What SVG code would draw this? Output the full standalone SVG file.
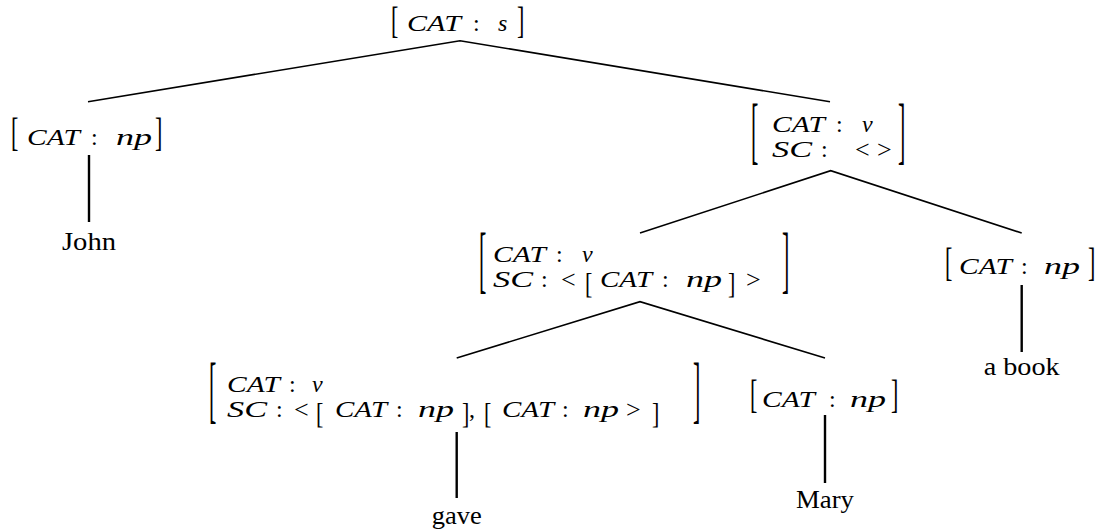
<svg xmlns="http://www.w3.org/2000/svg" width="1112" height="531" viewBox="0 0 1112 531">
<style>
text{font-family:"Liberation Serif","Times New Roman",serif;font-size:24px;fill:#000}
.i{font-style:italic}
.br{font-size:22px}
.r{font-size:26px}
.w{font-size:25px}
.e{stroke:#000;stroke-width:1.6;fill:none;stroke-linejoin:miter}
.v{stroke:#000;stroke-width:2.4;fill:none}
</style>
<rect width="1112" height="531" fill="#fff"/>
<g id="connectors">
<path class="e" d="M88,101.7 L460,40.7 L830,101.7"/>
<path class="e" d="M640,233 L830.7,170.7 L1021.7,233"/>
<path class="e" d="M456.7,358 L640,301.7 L825,358"/>
<line class="v" x1="89" y1="155" x2="89" y2="222"/>
<line class="v" x1="1021.7" y1="285" x2="1021.7" y2="352"/>
<line class="v" x1="825" y1="415" x2="825" y2="483"/>
<line class="v" x1="456.7" y1="432" x2="456.7" y2="498"/>
</g>
<g id="n-s">
<text class="br" transform="translate(391,33) scale(1,1.72)">[</text>
<text class="i" x="407" y="31" textLength="54" lengthAdjust="spacingAndGlyphs">CAT</text>
<text x="473" y="31">:</text>
<text class="i" x="498" y="31">s</text>
<text class="br" transform="translate(517,33) scale(1,1.72)">]</text>
</g>
<g id="n-np1">
<text class="br" transform="translate(11,146) scale(1,1.8)">[</text>
<text class="i" x="27" y="145" textLength="53" lengthAdjust="spacingAndGlyphs">CAT</text>
<text x="91" y="145">:</text>
<text class="i" x="116" y="145" textLength="36" lengthAdjust="spacingAndGlyphs">np</text>
<text class="br" transform="translate(155,146) scale(1,1.8)">]</text>
</g>
<g id="n-john">
<text class="w" x="89" y="250" text-anchor="middle" textLength="54" lengthAdjust="spacingAndGlyphs">John</text>
</g>
<g id="n-vp">
<text class="br" transform="translate(751,155) scale(1,3.4)">[</text>
<text class="i" x="772" y="132" textLength="53" lengthAdjust="spacingAndGlyphs">CAT</text>
<text x="836" y="132">:</text>
<text class="i" x="862" y="132">v</text>
<text class="i" x="772" y="157" textLength="40" lengthAdjust="spacingAndGlyphs">SC</text>
<text x="821" y="157">:</text>
<text class="r" x="855" y="158">&lt;</text>
<text class="r" x="877" y="158">&gt;</text>
<text class="br" transform="translate(898,155) scale(1,3.4)">]</text>
</g>
<g id="n-v">
<text class="br" transform="translate(479,284) scale(1,3.4)">[</text>
<text class="i" x="493" y="262" textLength="53" lengthAdjust="spacingAndGlyphs">CAT</text>
<text x="556" y="262">:</text>
<text class="i" x="582" y="262">v</text>
<text class="i" x="493" y="287" textLength="40" lengthAdjust="spacingAndGlyphs">SC</text>
<text x="541" y="287">:</text>
<text class="r" x="561" y="288">&lt;</text>
<text class="br" transform="translate(585,293) scale(1,1.3)">[</text>
<text class="i" x="600" y="287" textLength="52" lengthAdjust="spacingAndGlyphs">CAT</text>
<text x="662" y="287">:</text>
<text class="i" x="686" y="287" textLength="36" lengthAdjust="spacingAndGlyphs">np</text>
<text class="br" transform="translate(728,293) scale(1,1.3)">]</text>
<text class="r" x="746" y="288">&gt;</text>
<text class="br" transform="translate(782,284) scale(1,3.4)">]</text>
</g>
<g id="n-vv">
<text class="br" transform="translate(209,414) scale(1,3.4)">[</text>
<text class="i" x="227" y="392" textLength="53" lengthAdjust="spacingAndGlyphs">CAT</text>
<text x="289" y="392">:</text>
<text class="i" x="312" y="392">v</text>
<text class="i" x="227" y="417" textLength="40" lengthAdjust="spacingAndGlyphs">SC</text>
<text x="276" y="417">:</text>
<text class="r" x="294" y="418">&lt;</text>
<text class="br" transform="translate(316,423) scale(1,1.3)">[</text>
<text class="i" x="335" y="417" textLength="52" lengthAdjust="spacingAndGlyphs">CAT</text>
<text x="396" y="417">:</text>
<text class="i" x="418" y="417" textLength="36" lengthAdjust="spacingAndGlyphs">np</text>
<text class="br" transform="translate(462,423) scale(1,1.3)">]</text>
<text x="469" y="417">,</text>
<text class="br" transform="translate(484,423) scale(1,1.3)">[</text>
<text class="i" x="502" y="417" textLength="52" lengthAdjust="spacingAndGlyphs">CAT</text>
<text x="562" y="417">:</text>
<text class="i" x="583" y="417" textLength="36" lengthAdjust="spacingAndGlyphs">np</text>
<text class="r" x="626" y="418">&gt;</text>
<text class="br" transform="translate(652,423) scale(1,1.3)">]</text>
<text class="br" transform="translate(693,414) scale(1,3.4)">]</text>
</g>
<g id="n-np2">
<text class="br" transform="translate(945,276) scale(1,1.8)">[</text>
<text class="i" x="959" y="274" textLength="53" lengthAdjust="spacingAndGlyphs">CAT</text>
<text x="1021" y="274">:</text>
<text class="i" x="1044" y="274" textLength="36" lengthAdjust="spacingAndGlyphs">np</text>
<text class="br" transform="translate(1088,276) scale(1,1.8)">]</text>
</g>
<g id="n-abook">
<text class="w" x="1021.7" y="375" text-anchor="middle" textLength="76" lengthAdjust="spacingAndGlyphs">a book</text>
</g>
<g id="n-np3">
<text class="br" transform="translate(750,408) scale(1,1.8)">[</text>
<text class="i" x="762" y="407" textLength="53" lengthAdjust="spacingAndGlyphs">CAT</text>
<text x="829" y="407">:</text>
<text class="i" x="850" y="407" textLength="36" lengthAdjust="spacingAndGlyphs">np</text>
<text class="br" transform="translate(891,408) scale(1,1.8)">]</text>
</g>
<g id="n-mary">
<text class="w" x="825" y="508" text-anchor="middle" textLength="58" lengthAdjust="spacingAndGlyphs">Mary</text>
</g>
<g id="n-gave">
<text class="w" x="456.7" y="524" text-anchor="middle" textLength="50" lengthAdjust="spacingAndGlyphs">gave</text>
</g>
</svg>
